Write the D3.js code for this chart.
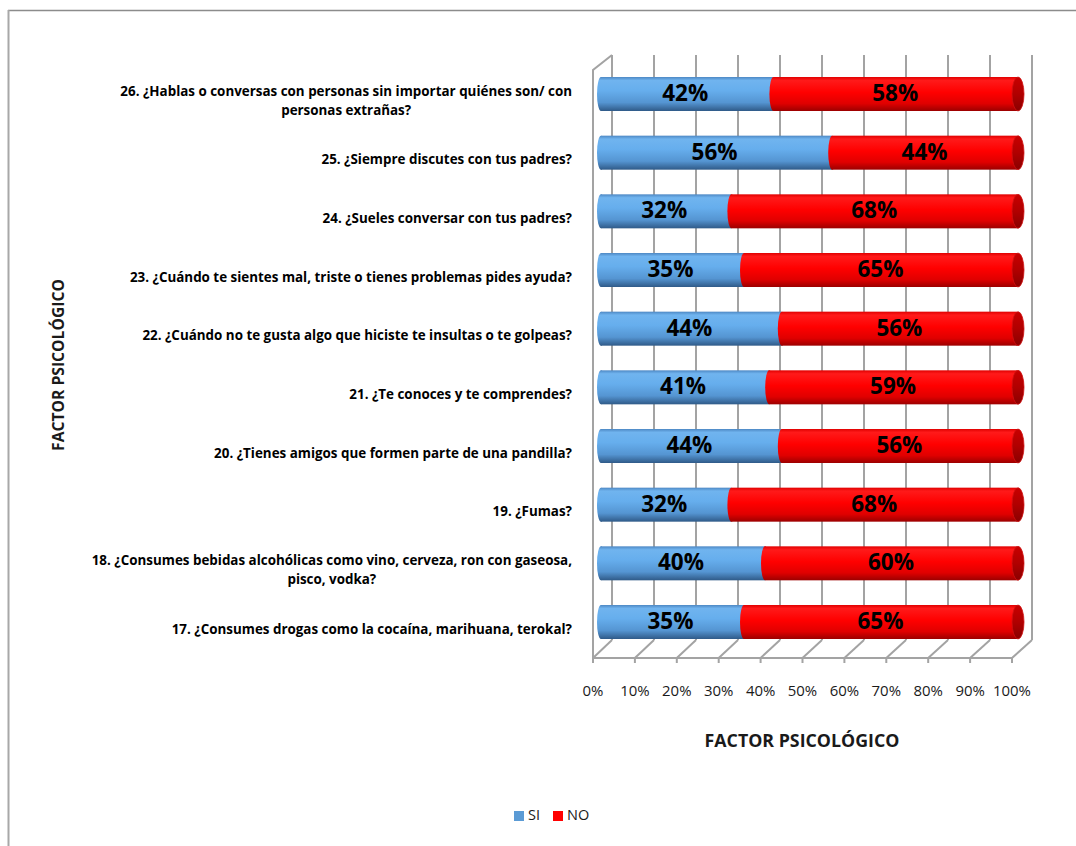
<!DOCTYPE html>
<html>
<head>
<meta charset="utf-8">
<script src="https://cdn.jsdelivr.net/npm/d3@7"></script>
<style>
  html, body { margin: 0; padding: 0; background: #fff; }
  svg { display: block; font-family: "Open Sans", Lato, "Liberation Sans", sans-serif; }
</style>
</head>
<body>
<svg id="chart" width="1076" height="846"></svg>
<script>
// Survey questions (top to bottom), share answering SI / NO
const categories = [
  "26. ¿Hablas o conversas con personas sin importar quiénes son/ con\npersonas extrañas?",
  "25. ¿Siempre discutes con tus padres?",
  "24. ¿Sueles conversar con tus padres?",
  "23. ¿Cuándo te sientes mal, triste o tienes problemas pides ayuda?",
  "22. ¿Cuándo no te gusta algo que hiciste te insultas o te golpeas?",
  "21. ¿Te conoces y te comprendes?",
  "20. ¿Tienes amigos que formen parte de una pandilla?",
  "19. ¿Fumas?",
  "18. ¿Consumes bebidas alcohólicas como vino, cerveza, ron con gaseosa,\npisco, vodka?",
  "17. ¿Consumes drogas como la cocaína, marihuana, terokal?"
];
const siValues = [0.42, 0.56, 0.32, 0.35, 0.44, 0.41, 0.44, 0.32, 0.40, 0.35];
const noValues = [0.58, 0.44, 0.68, 0.65, 0.56, 0.59, 0.56, 0.68, 0.60, 0.65];
const tickValues = [0, 0.1, 0.2, 0.3, 0.4, 0.5, 0.6, 0.7, 0.8, 0.9, 1.0];
const seriesNames = ["SI", "NO"];
const axisTitle = "FACTOR PSICOLÓGICO";

const svg = d3.select("#chart");
const defs = svg.append("defs");
const pct = d3.format(".0%");

// Pick a font size so that a sample string spans the wanted width
function fitSize(sample, weight, width, base) {
  const t = svg.append("text").attr("font-size", base).attr("font-weight", weight).text(sample);
  const w = t.node().getComputedTextLength();
  t.remove();
  return base * width / w;
}
const catSize = fitSize("26. ¿Hablas o conversas con personas sin importar quiénes son/ con", "bold", 452, 13);
const valSize = fitSize("42%", "bold", 46, 20);
const tickSize = fitSize("100%", "normal", 38, 14);
const xTitleSize = fitSize(axisTitle, "bold", 195, 16);
const yTitleSize = fitSize(axisTitle, "bold", 172, 14);

// Cylinder shading gradients (vertical)
function cylGradient(id, stops) {
  const g = defs.append("linearGradient").attr("id", id)
    .attr("x1", 0).attr("y1", 0).attr("x2", 0).attr("y2", 1);
  stops.forEach(([o, c]) => g.append("stop").attr("offset", o).attr("stop-color", c));
}
cylGradient("gSI", [[0, "#4d88c4"], [0.1, "#70b4ef"], [0.4, "#66aeed"], [0.75, "#5595d2"], [1, "#2f5a88"]]);
cylGradient("gNO", [[0, "#e00000"], [0.1, "#ff1a1a"], [0.45, "#ff0000"], [0.78, "#e00000"], [1, "#9c0000"]]);
cylGradient("gCap", [[0, "#c80000"], [0.5, "#b00000"], [1, "#8a0000"]]);

// Outer frame (top and left edges)
svg.append("line").attr("x1", 8).attr("y1", 10.5).attr("x2", 1076).attr("y2", 10.5)
  .attr("stroke", "#8c8c8c").attr("stroke-width", 1.5);
svg.append("line").attr("x1", 8.5).attr("y1", 10).attr("x2", 8.5).attr("y2", 846)
  .attr("stroke", "#a8a8a8").attr("stroke-width", 2);

// Scales: bars, front floor edge, back wall
const xBar = d3.scaleLinear().domain([0, 1]).range([597, 1017]);
const xFront = d3.scaleLinear().domain([0, 1]).range([593, 1012]);
const xBack = d3.scaleLinear().domain([0, 1]).range([612, 1032]);
const yCenter = d3.scalePoint().domain(categories).range([94, 622]);
const barH = 34;

const wallTop = 55, wallBottom = 640, frontTop = 70, frontBottom = 658;
const gridColor = "#a3a3a3";

// Back wall gridlines
svg.append("g").selectAll("line").data(tickValues).join("line")
  .attr("x1", d => xBack(d)).attr("x2", d => xBack(d))
  .attr("y1", wallTop).attr("y2", wallBottom)
  .attr("stroke", gridColor).attr("stroke-width", 2);

// Floor: diagonals, front edge and tick marks
const floor = svg.append("g");
floor.selectAll("line.diag").data(tickValues).join("line").attr("class", "diag")
  .attr("x1", d => xFront(d)).attr("y1", frontBottom)
  .attr("x2", d => xBack(d)).attr("y2", wallBottom)
  .attr("stroke", gridColor).attr("stroke-width", 2);
floor.append("line").attr("x1", xFront(0)).attr("x2", xFront(1))
  .attr("y1", frontBottom).attr("y2", frontBottom)
  .attr("stroke", gridColor).attr("stroke-width", 2);
floor.selectAll("line.tick").data(tickValues).join("line").attr("class", "tick")
  .attr("x1", d => xFront(d)).attr("x2", d => xFront(d))
  .attr("y1", frontBottom).attr("y2", frontBottom + 5)
  .attr("stroke", gridColor).attr("stroke-width", 2);

// Side wall edges
svg.append("path")
  .attr("d", `M${xFront(0)},${frontBottom} L${xFront(0)},${frontTop} L${xBack(0)},${wallTop}`)
  .attr("fill", "none").attr("stroke", gridColor).attr("stroke-width", 2);

// Bars as horizontal cylinders
const rows = categories.map((c, i) => ({ cat: c, si: siValues[i], no: noValues[i] }));
const capRx = 4;
const bars = svg.append("g").selectAll("g").data(rows).join("g")
  .attr("transform", d => `translate(0,${yCenter(d.cat)})`);

// SI segment (rounded left end)
bars.append("rect")
  .attr("x", xBar(0) + capRx).attr("y", -barH / 2)
  .attr("width", d => xBar(d.si) - xBar(0) - capRx).attr("height", barH)
  .attr("fill", "url(#gSI)");
bars.append("ellipse")
  .attr("cx", xBar(0) + capRx).attr("cy", 0).attr("rx", capRx).attr("ry", barH / 2)
  .attr("fill", "url(#gSI)");
// NO segment
bars.append("rect")
  .attr("x", d => xBar(d.si)).attr("y", -barH / 2)
  .attr("width", d => xBar(d.si + d.no) - xBar(d.si)).attr("height", barH)
  .attr("fill", "url(#gNO)");
bars.append("ellipse")
  .attr("cx", d => xBar(d.si)).attr("cy", 0).attr("rx", capRx).attr("ry", barH / 2)
  .attr("fill", "url(#gNO)");
// End cap
bars.append("ellipse")
  .attr("cx", d => xBar(d.si + d.no) + 1).attr("cy", 0).attr("rx", capRx + 2).attr("ry", barH / 2)
  .attr("fill", "url(#gCap)").attr("stroke", "#d01010").attr("stroke-width", 0.8);

// Value labels
bars.append("text")
  .attr("x", d => (xBar(0) + xBar(d.si)) / 2).attr("y", 1)
  .attr("text-anchor", "middle").attr("dominant-baseline", "middle")
  .attr("font-size", valSize).attr("font-weight", "bold").attr("fill", "#000")
  .text(d => pct(d.si));
bars.append("text")
  .attr("x", d => (xBar(d.si) + xBar(d.si + d.no)) / 2).attr("y", 1)
  .attr("text-anchor", "middle").attr("dominant-baseline", "middle")
  .attr("font-size", valSize).attr("font-weight", "bold").attr("fill", "#000")
  .text(d => pct(d.no));

// Category labels
const lineH = 19;
const catLabels = svg.append("g").selectAll("text").data(categories).join("text")
  .attr("text-anchor", "middle")
  .attr("font-size", catSize).attr("font-weight", "bold").attr("fill", "#000");
catLabels.each(function (d) {
  const lines = d.split("\n");
  const t = d3.select(this);
  const cy = yCenter(d) + 8;
  const y0 = cy - (lines.length - 1) * lineH / 2;
  lines.forEach((ln, k) => {
    t.append("tspan").attr("y", y0 + k * lineH).attr("dominant-baseline", "middle").text(ln);
  });
});
// right-align the block, lines centered within it
catLabels.each(function () {
  const tspans = d3.select(this).selectAll("tspan").nodes();
  const maxW = d3.max(tspans.map(n => n.getComputedTextLength()));
  const cx = 572 - maxW / 2;
  tspans.forEach(n => d3.select(n).attr("x", cx));
});

// Value axis tick labels
svg.append("g").selectAll("text").data(tickValues).join("text")
  .attr("x", d => xFront(d)).attr("y", 692)
  .attr("text-anchor", "middle").attr("dominant-baseline", "middle")
  .attr("font-size", tickSize).attr("fill", "#1a1a1a")
  .text(d => pct(d));

// Axis titles
svg.append("text").attr("x", 802).attr("y", 742)
  .attr("text-anchor", "middle").attr("dominant-baseline", "middle")
  .attr("font-size", xTitleSize).attr("font-weight", "bold").attr("fill", "#1a1a1a")
  .text(axisTitle);
svg.append("text")
  .attr("transform", "translate(60,365) rotate(-90)")
  .attr("text-anchor", "middle").attr("dominant-baseline", "middle")
  .attr("font-size", yTitleSize).attr("font-weight", "bold").attr("fill", "#1a1a1a")
  .text(axisTitle);

// Legend
const legendColors = ["#5b9bd5", "#ff0000"];
const legend = svg.append("g").selectAll("g").data(seriesNames).join("g")
  .attr("transform", (d, i) => `translate(${i === 0 ? 514 : 553},811)`);
legend.append("rect").attr("width", 10).attr("height", 10)
  .attr("fill", (d, i) => legendColors[i]);
legend.append("text").attr("x", 14).attr("y", 5.5)
  .attr("dominant-baseline", "middle").attr("font-size", 14.5).attr("fill", "#1a1a1a")
  .text(d => d);
</script>
</body>
</html>
